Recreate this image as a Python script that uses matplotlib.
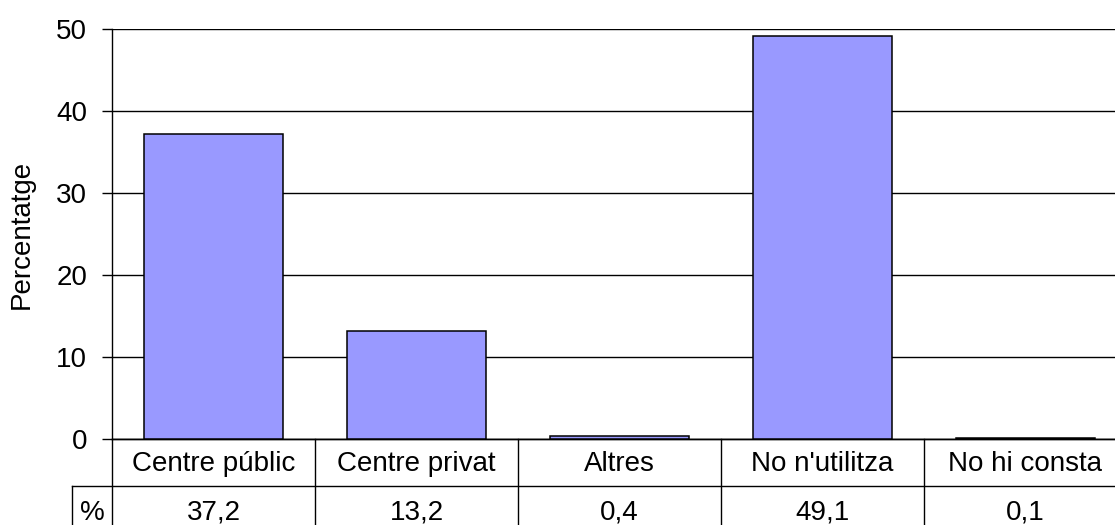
import numpy as np
import matplotlib.pyplot as plt
from matplotlib.transforms import blended_transform_factory

plt.rcParams['font.family'] = ['Liberation Sans', 'DejaVu Sans']

categories = ["Centre públic", "Centre privat", "Altres", "No n'utilitza", "No hi consta"]
values = [37.2, 13.2, 0.4, 49.1, 0.1]
value_labels = ["37,2", "13,2", "0,4", "49,1", "0,1"]
row_label = "%"
yticks = [0, 10, 20, 30, 40, 50]

fs = 20
fig = plt.figure(figsize=(11.15, 5.25), dpi=100)
W, H = 1115, 525
ax = fig.add_axes([112 / W, (H - 439) / H, (1127 - 112) / W, 410 / H])

x = np.arange(len(categories))
ax.bar(x, values, width=0.68, color='#9999FF', edgecolor='black', linewidth=1.1, zorder=3)

ax.set_xlim(-0.5, len(categories) - 0.5)
ax.set_ylim(0, 50)
ax.set_yticks(yticks)
ax.yaxis.grid(True, color='black', linewidth=1.0, zorder=0)
ax.set_axisbelow(True)
ax.tick_params(axis='y', length=7, width=1.0, labelsize=fs, pad=11)
ax.tick_params(axis='x', length=0, labelbottom=False)
for s in ['top', 'right']:
    ax.spines[s].set_visible(False)
ax.spines['left'].set_linewidth(1.0)
ax.spines['bottom'].set_linewidth(1.0)
ax.set_ylabel("Percentatge", fontsize=fs, labelpad=15)

# data table under the axis
tr = blended_transform_factory(ax.transData, ax.transAxes)
row_h = 47 / 410
lw = 1.0
x_left = -0.5 - 40 / 203
ax.plot([-0.5, len(categories) - 0.5], [0, 0], color='black', lw=lw, transform=tr, clip_on=False)
ax.plot([x_left, len(categories) - 0.5], [-row_h, -row_h], color='black', lw=lw, transform=tr, clip_on=False)
ax.plot([x_left, len(categories) - 0.5], [-2 * row_h, -2 * row_h], color='black', lw=lw, transform=tr, clip_on=False)
for b in np.arange(len(categories) + 1) - 0.5:
    ax.plot([b, b], [0, -2 * row_h], color='black', lw=lw, transform=tr, clip_on=False)
ax.plot([x_left, x_left], [-row_h, -2 * row_h], color='black', lw=lw, transform=tr, clip_on=False)

for i, (c, v) in enumerate(zip(categories, value_labels)):
    ax.text(i, -row_h / 2 - 0.004, c, ha='center', va='center', fontsize=fs, transform=tr)
    ax.text(i, -1.5 * row_h - 0.008, v, ha='center', va='center', fontsize=fs, transform=tr)
ax.text((x_left - 0.5) / 2, -1.5 * row_h - 0.008, row_label, ha='center', va='center', fontsize=fs, transform=tr)

fig.savefig("out.png", dpi=100)
